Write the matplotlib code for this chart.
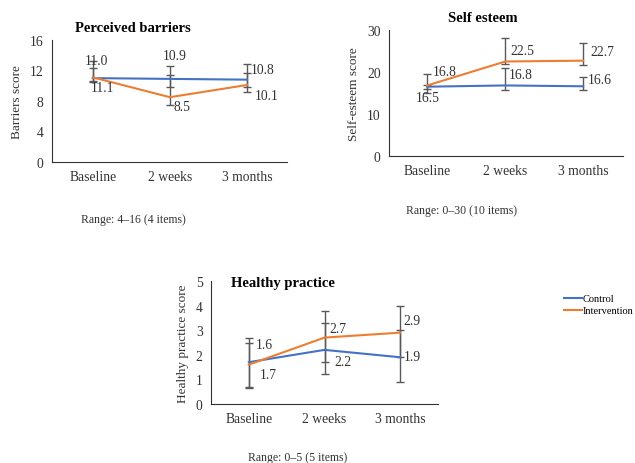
import matplotlib
matplotlib.use("Agg")
import matplotlib.pyplot as plt

plt.rcParams["font.family"] = ["Liberation Serif", "DejaVu Serif"]

categories = ["Baseline", "2 weeks", "3 months"]

# Perceived barriers
barriers_control = [11.0, 10.9, 10.8]
barriers_interv = [11.1, 8.5, 10.1]
barriers_control_err = [[0.5, 1.0, 0.9], [2.3, 1.7, 2.0]]
barriers_interv_err = [[0.5, 1.0, 0.9], [1.2, 2.95, 1.6]]

# Self esteem
esteem_control = [16.5, 16.8, 16.6]
esteem_interv = [16.8, 22.5, 22.7]
esteem_control_err = [[1.5, 1.1, 0.9], [0.5, 4.1, 2.3]]
esteem_interv_err = [[0.8, 0.6, 1.0], [2.7, 5.5, 4.1]]

# Healthy practice
practice_control = [1.7, 2.2, 1.9]
practice_interv = [1.6, 2.7, 2.9]
practice_control_err = [[1.06, 1.0, 1.0], [1.0, 1.1, 1.1]]
practice_interv_err = [[0.9, 1.0, 1.0], [0.9, 1.1, 1.1]]

BLUE = "#4472C4"
ORANGE = "#ED7D31"
GRAY = "#333333"
ERR = "#595959"

W, H = 635, 464
fig = plt.figure(figsize=(6.35, 4.64), dpi=100)


def px_axes(left, right, bottom, top):
    return fig.add_axes([left / W, 1 - bottom / H, (right - left) / W, (bottom - top) / H])


def panel(ax, ctrl, intv, cerr, ierr, ymax, step, xlim, offsets, ylabel):
    x = range(len(categories))
    ax.errorbar(x, ctrl, yerr=cerr, fmt="none", ecolor=ERR, elinewidth=1, capsize=3, zorder=1)
    ax.errorbar(x, intv, yerr=ierr, fmt="none", ecolor=ERR, elinewidth=1, capsize=3, zorder=1)
    ax.plot(x, ctrl, color=BLUE, lw=1.5, label="Control", zorder=2)
    ax.plot(x, intv, color=ORANGE, lw=1.5, label="Intervention", zorder=2)
    for i in x:
        for vals, off in ((ctrl, offsets[0][i]), (intv, offsets[1][i])):
            ax.annotate(f"{vals[i]:.1f}", (i, vals[i]), xytext=off, textcoords="offset pixels",
                        ha="center", va="center", fontsize=9.8, color=GRAY)
    ax.set_ylim(0, ymax)
    ax.set_yticks(range(0, ymax + 1, step))
    ax.set_xlim(*xlim)
    ax.set_xticks(list(x))
    ax.set_xticklabels(categories)
    ax.spines[["top", "right"]].set_visible(False)
    ax.spines[["left", "bottom"]].set_color(GRAY)
    ax.tick_params(length=0, labelsize=9.8, colors=GRAY, pad=6)
    ax.set_ylabel(ylabel, fontsize=9.5, color=GRAY, labelpad=5)


ax1 = px_axes(52, 287, 163, 41)
panel(ax1, barriers_control, barriers_interv, barriers_control_err, barriers_interv_err,
      16, 4, (-0.53, 2.52),
      [[(4, 18), (5, 23), (16, 10)], [(10, -10), (12, -9), (20, -11)]],
      "Barriers score")

ax2 = px_axes(389, 623, 157, 31)
panel(ax2, esteem_control, esteem_interv, esteem_control_err, esteem_interv_err,
      30, 10, (-0.49, 2.51),
      [[(1, -11), (16, 11), (17, 7)], [(18, 14), (17, 11), (19, 9)]],
      "Self-esteem score")

ax3 = px_axes(211, 438, 405, 282)
panel(ax3, practice_control, practice_interv, practice_control_err, practice_interv_err,
      5, 1, (-0.5, 2.5),
      [[(19, -12), (18, -12), (12, 1)], [(16, 20), (13, 9), (12, 12)]],
      "Healthy practice score")

fig.text(133 / W, 1 - 29 / H, "Perceived barriers", ha="center", va="center", fontsize=10.5, fontweight="bold")
fig.text(483 / W, 1 - 18 / H, "Self esteem", ha="center", va="center", fontsize=10.5, fontweight="bold")
fig.text(283 / W, 1 - 283 / H, "Healthy practice", ha="center", va="center", fontsize=10.5, fontweight="bold")

fig.text(133 / W, 1 - 220 / H, "Range: 4\u201316 (4 items)", ha="center", va="center", fontsize=8.5, color=GRAY)
fig.text(461 / W, 1 - 211 / H, "Range: 0\u201330 (10 items)", ha="center", va="center", fontsize=8.5, color=GRAY)
fig.text(298 / W, 1 - 458 / H, "Range: 0\u20135 (5 items)", ha="center", va="center", fontsize=8.5, color=GRAY)

handles, labels = ax3.get_legend_handles_labels()
fig.legend(handles, labels, loc="upper left", bbox_to_anchor=(560 / W, 1 - 291 / H),
           frameon=False, fontsize=7.5, handlelength=1.7, handletextpad=0.1,
           labelspacing=0.25, borderaxespad=0)

fig.savefig("out.png", dpi=100)
